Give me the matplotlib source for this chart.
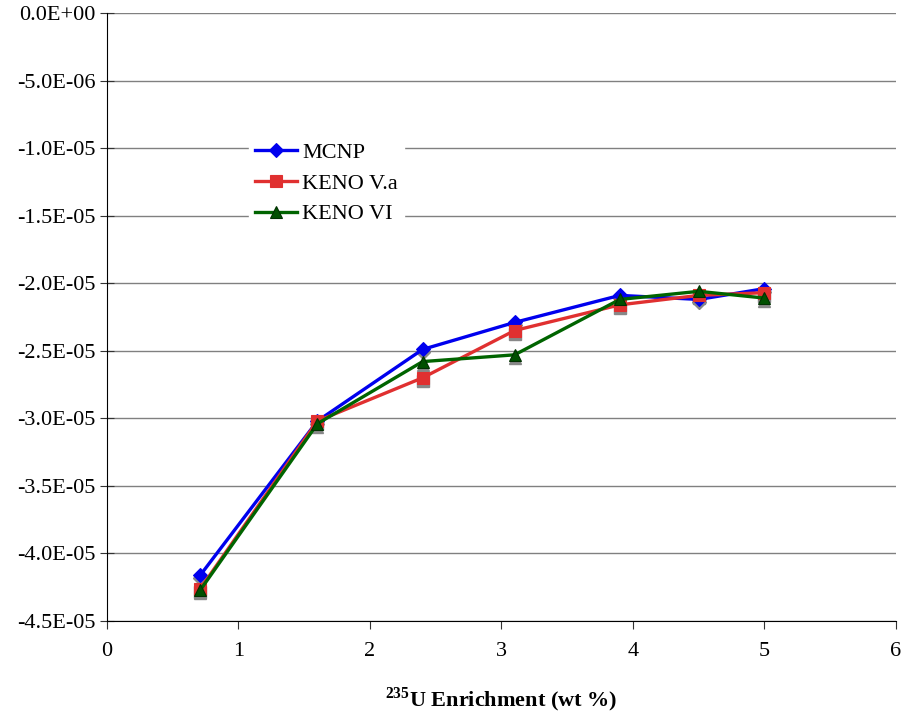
import matplotlib
matplotlib.use("Agg")
import matplotlib.pyplot as plt
import matplotlib.transforms as mtransforms
from matplotlib.ticker import FuncFormatter, MultipleLocator

enrichment = [0.71, 1.6, 2.4, 3.1, 3.9, 4.5, 5.0]
mcnp = [-4.16e-5, -3.02e-5, -2.49e-5, -2.29e-5, -2.09e-5, -2.12e-5, -2.04e-5]
keno_va = [-4.26e-5, -3.02e-5, -2.70e-5, -2.35e-5, -2.16e-5, -2.09e-5, -2.07e-5]
keno_vi = [-4.27e-5, -3.04e-5, -2.58e-5, -2.53e-5, -2.12e-5, -2.06e-5, -2.11e-5]

plt.rcParams['font.family'] = ['Liberation Serif', 'DejaVu Serif']
plt.rcParams['mathtext.fontset'] = 'custom'
plt.rcParams['mathtext.rm'] = 'Liberation Serif'
plt.rcParams['mathtext.bf'] = 'Liberation Serif:bold'

fig = plt.figure(figsize=(9.03, 7.15), dpi=100)
L, R, T, B = 107, 896, 13, 621
ax = fig.add_axes([L/903, 1 - B/715, (R-L)/903, (B-T)/715])

series = [
    ("MCNP", mcnp, "#0000ee", "D", 7),
    ("KENO V.a", keno_va, "#e03030", "s", 9),
    ("KENO VI", keno_vi, "#006400", "^", 9),
]
for name, vals, col, mk, ms in series:
    shadow = mtransforms.offset_copy(ax.transData, fig=fig, x=0, y=-3, units='dots')
    ax.plot(enrichment, vals, linestyle='none', marker=mk, markersize=ms,
            color='#888888', transform=shadow, zorder=2, clip_on=False)
for name, vals, col, mk, ms in series:
    ax.plot(enrichment, vals, color=col, lw=2.4, marker=mk, markersize=ms,
            markerfacecolor=col if mk != "^" else "#005000",
            markeredgecolor=col if mk != "^" else "#003000", markeredgewidth=0.8,
            label=name, zorder=3, clip_on=False)

ax.set_xlim(0, 6)
ax.set_ylim(-4.5e-5, 0)
ax.xaxis.set_major_locator(MultipleLocator(1))
ax.yaxis.set_major_locator(MultipleLocator(5e-6))

def yfmt(v, pos):
    if abs(v) < 1e-12:
        return "0.0E+00"
    return "%.1E" % v
ax.yaxis.set_major_formatter(FuncFormatter(yfmt))
ax.yaxis.get_offset_text().set_visible(False)

ax.grid(axis='y', color='#808080', lw=1.0, zorder=0)
ax.set_axisbelow(True)
for s in ['top', 'right']:
    ax.spines[s].set_visible(False)
ax.spines['left'].set_color('black')
ax.spines['bottom'].set_color('black')
ax.tick_params(axis='both', labelsize=16, color='#333333')
ax.tick_params(axis='y', direction='inout', length=10, pad=3)
ax.tick_params(axis='x', direction='out', length=6, pad=9)

ax.set_xlabel(r"$^{\mathbf{235}}$U Enrichment (wt %)", fontsize=16, fontweight='bold', labelpad=18)

leg = ax.legend(loc='upper left', bbox_to_anchor=(131/789, 1 - 113/608), frameon=True,
                fontsize=16, handlelength=1.9, handletextpad=0.25, borderpad=0.25,
                labelspacing=0.45, fancybox=False)
leg.get_frame().set_edgecolor('white')
leg.get_frame().set_facecolor('white')
leg.get_frame().set_alpha(1)

fig.savefig("out.png", dpi=100)
